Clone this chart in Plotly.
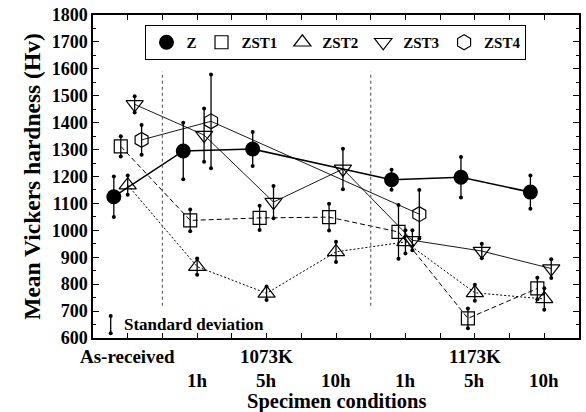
import plotly.graph_objects as go

# Specimen conditions along the x axis
conditions = ["As-received", "1073K 1h", "1073K 5h", "1073K 10h",
              "1173K 1h", "1173K 5h", "1173K 10h"]
group_labels = ["As-received", "1073K", "1173K"]
time_labels = ["1h", "5h", "10h", "1h", "5h", "10h"]

# Mean Vickers hardness (Hv) and standard deviation per specimen
z = [1125, 1295, 1302, None, 1188, 1197, 1142]
z_sd = [75, 105, 63, None, 37, 75, 62]
zst1 = [1312, 1037, 1046, 1049, 994, 673, 784]
zst1_sd = [38, 40, 45, 50, 100, 37, 40]
zst2 = [1168, 865, 766, 920, 957, 768, 745]
zst2_sd = [36, 30, 25, 38, 43, 30, 40]
zst3 = [1468, 1354, 1105, 1228, 963, 923, 858]
zst3_sd = [30, 99, 60, 75, 37, 27, 35]
zst4 = [1336, 1405, None, None, 1060, None, None]
zst4_sd = [55, 174, None, None, 90, None, None]

series = [
    ("Z", z, z_sd, dict(symbol="circle", size=15, color="black"),
     dict(color="black", width=1.6, dash="solid")),
    ("ZST1", zst1, zst1_sd, dict(symbol="square-open", size=13, color="black", line=dict(width=1.2)),
     dict(color="black", width=1, dash="5px,3px")),
    ("ZST2", zst2, zst2_sd, dict(symbol="triangle-up-open", size=15, color="black", line=dict(width=1.2)),
     dict(color="black", width=1, dash="2px,2px")),
    ("ZST3", zst3, zst3_sd, dict(symbol="triangle-down-open", size=15, color="black", line=dict(width=1.2)),
     dict(color="black", width=0.9, dash="solid")),
    ("ZST4", zst4, zst4_sd, dict(symbol="hexagon-open", size=15, color="black", line=dict(width=1.2)),
     dict(color="black", width=0.9, dash="solid")),
]

FONT = "Liberation Serif"


def cond_x(i, k):
    # each condition sits at 0.6 + 2*i, series are staggered by 0.2
    return 0.6 + 2 * i + 0.2 * k


fig = go.Figure()

for k, (name, vals, sds, marker, line) in enumerate(series):
    xs = [cond_x(i, k) for i in range(len(conditions))]
    fig.add_trace(go.Scatter(
        x=xs, y=vals, name=name, mode="lines+markers", showlegend=False,
        marker=marker, line=line, connectgaps=True,
        error_y=dict(type="data", array=[s if s is not None else 0 for s in sds],
                     color="black", thickness=1.3, width=0),
    ))
    # round dots at the ends of the deviation bars
    cx, cy = [], []
    for x, v, s in zip(xs, vals, sds):
        if v is not None and s is not None:
            cx += [x, x]
            cy += [v - s, v + s]
    fig.add_trace(go.Scatter(x=cx, y=cy, mode="markers", showlegend=False,
                             hoverinfo="skip",
                             marker=dict(symbol="circle", size=4, color="black")))

# legend entries show the symbol only
for name, vals, sds, marker, line in series:
    fig.add_trace(go.Scatter(x=[None], y=[None], name=name, mode="markers",
                             marker=marker, showlegend=True))

# standard deviation key
key_y, key_sd = [650], [32]
fig.add_trace(go.Scatter(x=[0.51], y=key_y, mode="markers", showlegend=False,
                         marker=dict(size=0.1, color="rgba(0,0,0,0)"),
                         error_y=dict(type="data", array=key_sd, color="black",
                                      thickness=1.3, width=0)))
fig.add_trace(go.Scatter(x=[0.51, 0.51], y=[key_y[0] - key_sd[0], key_y[0] + key_sd[0]],
                         mode="markers", showlegend=False,
                         marker=dict(symbol="circle", size=4, color="black")))
fig.add_annotation(x=0.83, y=key_y[0], xref="x", yref="y", text="Standard deviation",
                   showarrow=False, xanchor="left", yanchor="middle",
                   font=dict(family=FONT, size=17, color="black", weight="bold"))

# heat-treatment temperature separators
for xv in [2, 8]:
    fig.add_shape(type="line", xref="x", yref="y", x0=xv, x1=xv, y0=720, y1=1590,
                  line=dict(color="#666666", width=1.2, dash="dot"))

# category labels under the axis
grp_font = dict(family=FONT, size=19, color="black", weight="bold")
time_font = dict(family=FONT, size=19, color="black", weight="bold")
for txt, xv in zip(group_labels, [1.0, 5.0, 11.0]):
    fig.add_annotation(x=xv, y=-0.056, xref="x", yref="paper", text=txt, borderpad=0,
                       showarrow=False, xanchor="center", yanchor="middle", font=grp_font)
for txt, xv in zip(time_labels, [3, 5, 7, 9, 11, 13]):
    fig.add_annotation(x=xv, y=-0.133, xref="x", yref="paper", text=txt, borderpad=0,
                       showarrow=False, xanchor="center", yanchor="middle", font=time_font)
fig.add_annotation(x=0.5, y=-0.197, xref="paper", yref="paper", text="Specimen conditions",
                   borderpad=0, showarrow=False, xanchor="center", yanchor="middle",
                   font=dict(family=FONT, size=20.5, color="black", weight="bold"))

fig.update_layout(
    width=586, height=412,
    margin=dict(l=93, r=5, t=14, b=74),
    paper_bgcolor="white", plot_bgcolor="white",
    font=dict(family=FONT, size=18, color="black", weight="bold"),
    legend=dict(orientation="h", x=0.108, y=0.969, xanchor="left", yanchor="top",
                bordercolor="black", borderwidth=1, bgcolor="white",
                font=dict(family=FONT, size=15, color="black", weight="bold"),
                itemwidth=30, tracegroupgap=0),
    showlegend=True,
)
fig.update_xaxes(range=[0, 14], dtick=1, tick0=0, showticklabels=False,
                 ticks="inside", ticklen=5, tickwidth=1, tickcolor="black",
                 showline=True, linecolor="black", linewidth=1.5, mirror="ticks",
                 showgrid=False, zeroline=False)
fig.update_yaxes(range=[600, 1800], dtick=100, tick0=600,
                 ticks="inside", ticklen=6, tickwidth=1, tickcolor="black",
                 minor=dict(dtick=50, ticks="inside", ticklen=3, tickcolor="black"),
                 showline=True, linecolor="black", linewidth=1.5, mirror="ticks",
                 showgrid=False, zeroline=False,
                 tickfont=dict(family=FONT, size=18, color="black", weight="bold"),
                 title=dict(text="Mean Vickers hardness (Hv)", standoff=4,
                            font=dict(family=FONT, size=23.5, color="black", weight="bold")))

fig.write_html("out.html")
